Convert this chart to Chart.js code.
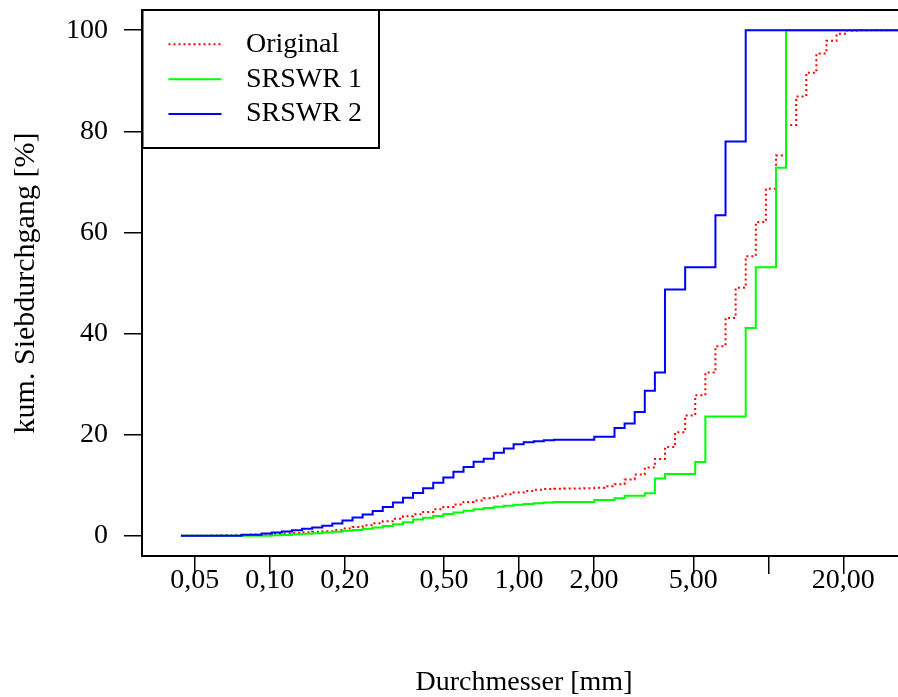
<!DOCTYPE html>
<html>
<head>
<meta charset="utf-8">
<script src="https://cdn.jsdelivr.net/npm/chart.js@4/dist/chart.umd.min.js"></script>
<style>
html,body{margin:0;padding:0;overflow:hidden;background:#fff;}
canvas{display:block;}
</style>
</head>
<body>
<canvas id="c" width="906" height="697"></canvas>
<script>
// particle diameters [mm] (x positions of the steps)
const sizes = [0.04406,0.04836,0.05309,0.05828,0.06397,0.07022,0.07708,0.08461,0.09287,0.1019,
  0.1119,0.1228,0.1348,0.1480,0.1625,0.1783,0.1958,0.2149,0.2359,0.2589,
  0.2842,0.3120,0.3425,0.3759,0.4126,0.4529,0.4972,0.5458,0.5991,0.6576,
  0.7218,0.7923,0.8697,0.9515,1.044,1.146,1.258,1.381,1.516,1.664,
  1.827,2.005,2.201,2.416,2.652,2.911,3.196,3.508,3.851,4.227,
  4.640,5.093,5.591,6.137,6.736,7.394,8.117,8.909,9.780,10.74,
  11.78,12.94,14.20,15.59,17.11,18.78,20.61,22.63,24.84,27.27,
  29.93,32.85,36.06];

// cumulative passing [%]
const original = [0,0,0.02,0.05,0.08,0.12,0.17,0.23,0.3,0.38,
  0.46,0.55,0.68,0.78,0.92,1.12,1.42,1.72,2.07,2.47,
  2.85,3.35,3.85,4.25,4.7,5.25,5.7,6.2,6.7,7.0,
  7.4,7.8,8.2,8.55,8.85,9.1,9.25,9.3,9.35,9.35,
  9.4,9.5,9.8,10.2,11.15,12.1,13.5,15.2,17.55,20.5,
  23.8,27.8,32.3,37.5,43.1,49.05,55.3,62.05,68.65,75.2,
  81.25,86.9,91.6,95.4,97.9,99.3,99.9,100,100,100,
  100,100,100];

const srswr1 = [0,0,0,0,0,0,0,0,0,0.1,
  0.15,0.3,0.4,0.5,0.65,0.8,1.0,1.15,1.4,1.65,
  1.95,2.3,2.7,3.2,3.55,3.9,4.3,4.6,4.95,5.25,
  5.5,5.75,5.95,6.15,6.3,6.45,6.6,6.7,6.7,6.7,
  6.7,7.1,7.1,7.4,7.9,7.9,8.4,11.35,12.2,12.2,
  12.2,14.6,23.6,23.6,23.6,23.6,41.1,53.1,53.1,72.8,
  100,100,100,100,100,100,100,100,100,100,
  100,100,100];

const srswr2 = [0,0,0,0,0,0,0.2,0.2,0.45,0.65,
  0.85,1.1,1.4,1.65,2.0,2.45,3.0,3.6,4.2,4.9,
  5.7,6.6,7.5,8.45,9.4,10.5,11.55,12.65,13.6,14.65,
  15.25,16.4,17.25,18.1,18.5,18.7,18.9,19.0,19.0,19.0,
  19.0,19.6,19.6,21.3,22.2,24.5,28.7,32.3,48.7,48.7,
  53.1,53.1,53.1,63.4,78,78,100,100,100,100,
  100,100,100,100,100,100,100,100,100,100,
  100,100,100];

const seriesNames = ["Original", "SRSWR 1", "SRSWR 2"];
const xTicks = [0.05, 0.1, 0.2, 0.5, 1, 2, 5, 10, 20];
const xTickLabels = ["0,05", "0,10", "0,20", "0,50", "1,00", "2,00", "5,00", "", "20,00"];
const yTicks = [0, 20, 40, 60, 80, 100];

const FONT = "'Liberation Serif', 'Times New Roman', Times, serif";
const toPts = arr => sizes.map((s, i) => ({x: s, y: arr[i]}));

const framePlugin = {
  id: 'frameAndLegend',
  afterDraw(chart) {
    const ctx = chart.ctx, a = chart.chartArea;
    ctx.save();
    ctx.strokeStyle = '#000';
    ctx.lineWidth = 2;
    ctx.beginPath();
    ctx.moveTo(a.left, a.top);
    ctx.lineTo(a.right, a.top);
    ctx.lineTo(a.right, a.bottom);
    ctx.stroke();
    // legend box
    const bx = a.left + 0.5, by = a.top, bw = 236.5, bh = 138;
    ctx.fillStyle = '#fff';
    ctx.fillRect(bx, by, bw, bh);
    ctx.strokeRect(bx, by, bw, bh);
    const rows = [34.3, 69.3, 104];
    chart.data.datasets.forEach((ds, i) => {
      const y = by + rows[i];
      ctx.beginPath();
      ctx.strokeStyle = ds.borderColor;
      ctx.lineWidth = ds.borderWidth;
      ctx.setLineDash(ds.borderDash || []);
      ctx.moveTo(bx + 26, y);
      ctx.lineTo(bx + 79, y);
      ctx.stroke();
      ctx.setLineDash([]);
      ctx.fillStyle = '#000';
      ctx.font = "28px " + FONT;
      ctx.textAlign = 'left';
      ctx.textBaseline = 'middle';
      ctx.fillText(ds.label, bx + 103.5, y);
    });
    ctx.restore();
  }
};

new Chart(document.getElementById('c'), {
  type: 'line',
  data: {
    datasets: [
      {label: seriesNames[0], data: toPts(original), borderColor: '#ff0000', borderWidth: 2,
       borderDash: [2, 3], stepped: 'before', pointRadius: 0, fill: false, order: 3},
      {label: seriesNames[1], data: toPts(srswr1), borderColor: '#00ff00', borderWidth: 2,
       stepped: 'before', pointRadius: 0, fill: false, order: 2},
      {label: seriesNames[2], data: toPts(srswr2), borderColor: '#0000ff', borderWidth: 2,
       stepped: 'before', pointRadius: 0, fill: false, order: 1}
    ]
  },
  options: {
    responsive: false,
    animation: false,
    layout: {padding: {top: 10, left: 0, right: 0, bottom: 0}},
    plugins: {legend: {display: false}, tooltip: {enabled: false}},
    scales: {
      x: {
        type: 'logarithmic',
        position: 'bottom',
        min: 0.03075,
        max: 35.67,
        afterBuildTicks: s => { s.ticks = xTicks.map(v => ({value: v})); },
        afterFit: s => { s.height = 141; s.paddingLeft = 0; s.paddingRight = 0; },
        ticks: {
          autoSkip: false, maxRotation: 0, minRotation: 0, padding: -7.5, color: '#000',
          font: {family: FONT, size: 28, lineHeight: 1},
          callback: (v, i) => xTickLabels[i]
        },
        grid: {drawOnChartArea: false, drawTicks: true, tickLength: 18, color: '#000', lineWidth: 1.5},
        border: {display: true, color: '#000', width: 2},
        title: {display: true, text: 'Durchmesser [mm]', color: '#000',
                font: {family: FONT, size: 28, lineHeight: 1}, padding: {top: 0, bottom: 0}}
      },
      y: {
        type: 'linear',
        min: -4,
        max: 104,
        afterBuildTicks: s => { s.ticks = yTicks.map(v => ({value: v})); },
        afterFit: s => { s.width = 142; s.paddingTop = 0; s.paddingBottom = 0; },
        ticks: {
          padding: 16, color: '#000', font: {family: FONT, size: 28, lineHeight: 1},
          callback: v => String(v)
        },
        grid: {drawOnChartArea: false, drawTicks: true, tickLength: 18, color: '#000', lineWidth: 1.5},
        border: {display: true, color: '#000', width: 2},
        title: {display: true, text: 'kum. Siebdurchgang [%]', color: '#000',
                font: {family: FONT, size: 30, lineHeight: 1}, padding: {top: 11, bottom: 0}}
      }
    }
  },
  plugins: [framePlugin]
});
</script>
</body>
</html>
